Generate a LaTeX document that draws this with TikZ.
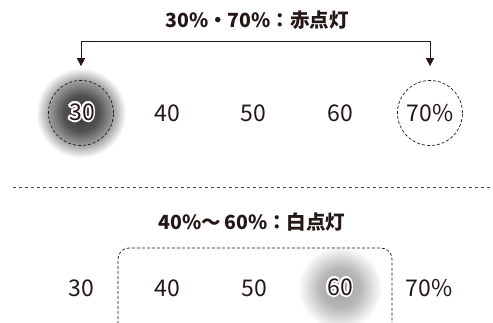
\documentclass[tikz,border=0pt]{standalone}
\usepackage{fontspec}
\setmainfont{Noto Sans CJK JP}
\usepackage[copies]{contour}
\usetikzlibrary{arrows.meta,backgrounds}

\definecolor{ink}{RGB}{35,24,21}
\contourlength{1.7pt}
\contournumber{24}

\pgfdeclareradialshading{glowdark}{\pgfpoint{0bp}{0bp}}{color(0bp)=(black!80);
  color(10bp)=(black!68); color(17bp)=(black!42); color(25bp)=(white); color(50bp)=(white)}
\pgfdeclareradialshading{glowlight}{\pgfpoint{0bp}{0bp}}{color(0bp)=(black!38);
  color(12bp)=(black!28); color(25bp)=(white); color(50bp)=(white)}

\tikzset{
  num/.style={text=ink, font=\fontsize{23}{23}\selectfont, inner sep=0pt},
  ttl/.style={text=ink, font=\fontsize{19.5}{19.5}\selectfont\bfseries, inner sep=0pt},
  ring/.style={circle, draw=ink, line width=0.7pt, dash pattern=on 3pt off 2pt,
    minimum size=65pt, inner sep=0pt},
  brk/.style={draw=ink, line width=0.9pt, {Triangle[length=8pt,width=8pt]}-{Triangle[length=8pt,width=8pt]}},
  sep/.style={draw=ink!80, line width=0.7pt, dash pattern=on 3pt off 3pt},
  frame/.style={draw=ink, line width=0.7pt, dash pattern=on 3pt off 2pt, rounded corners=11pt}
}

\begin{document}
\begin{tikzpicture}[x=1pt,y=1pt]
\useasboundingbox (0,0) rectangle (493,323);
\clip (0,0) rectangle (493,323);

% red blink
\node[ttl] (t1) at (257,303) {30\%・70\%：赤点灯};
\node[num] (a30) at (82,210) {\contour{white}{30}};
\node[num] (a40) at (167,210) {40};
\node[num] (a50) at (253,210) {50};
\node[num] (a60) at (340,210) {60};
\node[num] (a70) at (430,210) {70\%};
\node[ring] (r30) at (81,210) {};
\node[ring] (r70) at (430,210) {};
\draw[brk] ([yshift=14pt]r30.north) -- ++(0,25) -| ([yshift=14pt]r70.north);

\draw[sep] (13,136) -- (493,136);

% white blink
\node[ttl] (t2) at (252,101) {40\%～\,60\%：白点灯};
\node[num] (b30) at (81,35) {30};
\node[num] (b40) at (167,35) {40};
\node[num] (b50) at (254,35) {50};
\node[num] (b60) at (340,35) {\contour{white}{60}};
\node[num] (b70) at (429,35) {70\%};
\draw[frame] (118,-12) rectangle (392,75);

\begin{scope}[on background layer]
\shade[shading=glowdark] (r30.center) circle (45pt);
\shade[shading=glowlight] (b60.center) circle (42pt);
\end{scope}
\end{tikzpicture}
\end{document}
